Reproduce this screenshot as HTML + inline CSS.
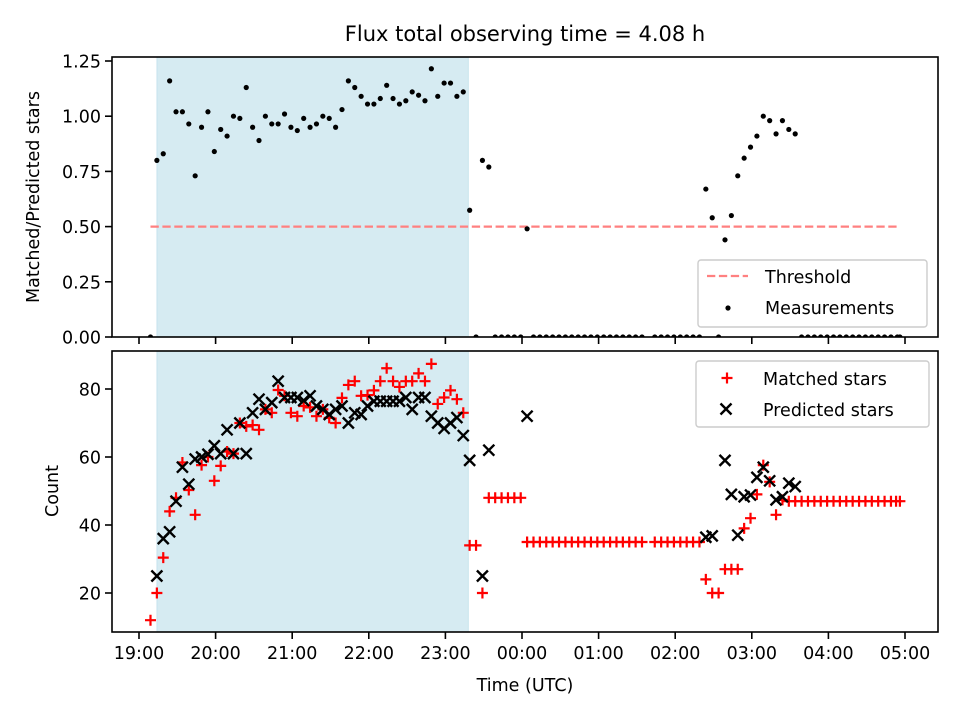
<!DOCTYPE html>
<html><head><meta charset="utf-8"><style>
html,body{margin:0;padding:0;background:#fff;}
svg{display:block;font-family:"DejaVu Sans","Liberation Sans",sans-serif;}
</style></head><body>
<svg id="fig" width="960" height="720" viewBox="0 0 960 720" xmlns="http://www.w3.org/2000/svg">
<text x="525" y="41" font-size="21" text-anchor="middle">Flux total observing time = 4.08 h</text>
<g id="top"></g>
<g id="bot"></g>
<text x="525" y="691" font-size="17.5" text-anchor="middle">Time (UTC)</text>
<text transform="translate(39,197) rotate(-90)" font-size="17.5" text-anchor="middle">Matched/Predicted stars</text>
<text transform="translate(58,491) rotate(-90)" font-size="17.5" text-anchor="middle">Count</text>
</svg>
<script>
// ---- data (times in minutes after 19:00 UTC) ----
const xTickMinutes = [0,60,120,180,240,300,360,420,480,540,600];
const xTickLabels = ["19:00","20:00","21:00","22:00","23:00","00:00","01:00","02:00","03:00","04:00","05:00"];
const topTickValues = [0,0.25,0.5,0.75,1.0,1.25];
const topTickLabels = ["0.00","0.25","0.50","0.75","1.00","1.25"];
const botTickValues = [20,40,60,80];
const botTickLabels = ["20","40","60","80"];
const shadeSpan = [14,258];
const thresholdValue = 0.5;
const thresholdSpan = [9,596];
const measTimes = [9,14,19,24,29,34,39,44,49,54,59,64,69,74,79,84,89,94,99,104,109,114,119,124,129,134,139,144,149,154,159,164,169,174,179,184,189,194,199,204,209,214,219,224,229,234,239,244,249,254,259,
264,269,274,279,284,289,294,299,304,
309,314,319,324,329,334,339,344,349,354,359,364,369,374,379,384,389,394,
404,409,414,419,424,429,434,439,
444,449,454,459,464,469,474,479,484,489,494,499,504,509,514,
519,524,529,534,539,544,549,554,559,564,569,574,579,584,589,594,596];
const measValues = [0,0.80,0.83,1.16,1.02,1.02,0.965,0.73,0.95,1.02,0.84,0.94,0.91,1.00,0.99,1.13,0.95,0.89,1.00,0.965,0.965,1.01,0.95,0.935,0.99,0.95,0.965,1.00,0.99,0.95,1.03,1.16,1.13,1.09,1.055,1.055,1.08,1.14,1.08,1.055,1.07,1.11,1.095,1.07,1.215,1.09,1.15,1.15,1.09,1.11,0.574,
0,0.80,0.77,0,0,0,0,0,0.49,
0,0,0,0,0,0,0,0,0,0,0,0,0,0,0,0,0,0,
0,0,0,0,0,0,0,0,
0.67,0.54,0,0.44,0.55,0.73,0.81,0.86,0.91,1.00,0.98,0.92,0.98,0.94,0.92,
0,0,0,0,0,0,0,0,0,0,0,0,0,0,0,0,0];
const matchedTimes = [9,14,19,24,29,34,39,44,49,54,59,64,69,74,79,84,89,94,99,104,109,114,119,124,129,134,139,144,149,154,159,164,169,174,179,184,189,194,199,204,209,214,219,224,229,234,239,244,249,254,259,
264,269,274,279,284,289,294,299,
304,309,314,319,324,329,334,339,344,349,354,359,364,369,374,379,384,389,394,
404,409,414,419,424,429,434,439,
444,449,454,459,464,469,474,479,484,489,494,499,504,
509,514,519,524,529,534,539,544,549,554,559,564,569,574,579,584,589,593,596];
const matchedValues = [12,20,30.4,44,48,58.4,50.3,43,57.6,60,53,57.4,61.6,61,70,69,69.4,68,74,73,79.7,78,73,72,75,74.6,72,74,71.5,70,77.4,81.2,82.3,78,78.2,79.6,82.3,86.1,82.3,80.6,82.3,82.3,84.6,82.3,87.4,75.6,77.5,79.6,77,73,34,
34,20,48,48,48,48,48,48,
35,35,35,35,35,35,35,35,35,35,35,35,35,35,35,35,35,35,35,
35,35,35,35,35,35,35,35,
24,20,20,27,27,27,39,42,49,57.6,52.7,43,47.4,
47,47,47,47,47,47,47,47,47,47,47,47,47,47,47,47,47,47,47];
const predictedTimes = [14,19,24,29,34,39,44,49,54,59,64,69,74,79,84,89,94,99,104,109,114,119,124,129,134,139,144,149,154,159,164,169,174,179,184,189,194,199,204,209,214,219,224,229,234,239,244,249,254,259,
269,274,304,444,449,459,464,469,474,479,484,489,494,499,504,509,514];
const predictedValues = [25,36,38,47,57,52,59.4,60,60.8,63.3,61,68,61,70,61,73,77,74,76,82.3,77.5,77.5,77.5,76.6,78,75,74,72.5,74,75,70,73,72.5,75,76.4,76.4,76.4,76.4,76.4,77.5,74,77.5,77.5,72,70,68.4,70,71.6,66.3,59,
25,62,72,36.4,36.8,59,49,37,48.3,48.8,54,57,53,47.4,48.3,52.3,51.3];

// ---- geometry ----
const AX_L=112, AX_R=938;
const TOP={t:57,b:337}, BOT={t:351,b:632};
const X0=139, PXMIN=76.6/60;
function xS(m){return X0+m*PXMIN;}
function yTop(v){return 337 - v*220.8;}
function yBot(v){return 661 - v*3.4;}
const NS="http://www.w3.org/2000/svg";
function mk(tag,attrs,parent){const e=document.createElementNS(NS,tag);for(const k in attrs)e.setAttribute(k,attrs[k]);parent.appendChild(e);return e;}

function panel(g,P,yFn,tv,tl,showXLabels,prefix){
  const clipId=prefix+"-clip";
  const cp=mk("clipPath",{id:clipId},g);
  mk("rect",{x:AX_L,y:P.t,width:AX_R-AX_L,height:P.b-P.t},cp);
  const shade=mk("rect",{x:xS(shadeSpan[0]),y:P.t,width:xS(shadeSpan[1])-xS(shadeSpan[0]),height:P.b-P.t,fill:"#add8e6","fill-opacity":"0.5",stroke:"#add8e6","stroke-opacity":"0.5"},g);
  
  
  const marks=mk("g",{"clip-path":"url(#"+clipId+")"},g);
  for(let i=0;i<tv.length;i++){
    const y=yFn(tv[i]);
    mk("line",{x1:AX_L-7,x2:AX_L,y1:y,y2:y,stroke:"#000","stroke-width":1.6},g);
    const t=mk("text",{x:AX_L-11,y:y+6.5,"font-size":"17.5","text-anchor":"end"},g);
    t.textContent=tl[i];
    
    
  }
  for(let i=0;i<xTickMinutes.length;i++){
    const x=xS(xTickMinutes[i]);
    mk("line",{x1:x,x2:x,y1:P.b,y2:P.b+7,stroke:"#000","stroke-width":1.6},g);
    if(showXLabels){
      const t=mk("text",{x:x,y:P.b+27,"font-size":"17.5","text-anchor":"middle"},g);
      t.textContent=xTickLabels[i];
      
      
    }
  }
  const frame=mk("rect",{x:AX_L,y:P.t,width:AX_R-AX_L,height:P.b-P.t,fill:"none",stroke:"#000","stroke-width":1.6},g);
  
  
  return marks;
}
function plus(g,x,y,c,s){mk("path",{d:`M${x-s},${y}H${x+s}M${x},${y-s}V${y+s}`,stroke:c,"stroke-width":2.2,fill:"none"},g);}
function cross(g,x,y,c,s){mk("path",{d:`M${x-s},${y-s}L${x+s},${y+s}M${x-s},${y+s}L${x+s},${y-s}`,stroke:c,"stroke-width":2.4,fill:"none"},g);}

const topG=document.getElementById("top");
const topMarks=panel(topG,TOP,yTop,topTickValues,topTickLabels,false,"top");
const th=mk("line",{x1:xS(thresholdSpan[0]),x2:xS(thresholdSpan[1]),y1:yTop(thresholdValue),y2:yTop(thresholdValue),stroke:"#ff8080","stroke-width":2.2,"stroke-dasharray":"8.3,3.6"},topMarks);


for(let i=0;i<measTimes.length;i++){
  const c=mk("circle",{cx:xS(measTimes[i]),cy:yTop(measValues[i]),r:2.6,fill:"#000"},topMarks);
  
  
}
const lg1=mk("g",{},topG);


mk("rect",{x:698,y:260,width:229,height:67,rx:3,fill:"#fff","fill-opacity":"0.8",stroke:"#ccc","stroke-width":1.4},lg1);
mk("line",{x1:707,x2:748,y1:276,y2:276,stroke:"#ff8080","stroke-width":2.2,"stroke-dasharray":"8.3,3.6"},lg1);
const lt1=mk("text",{x:765,y:283,"font-size":"17.5"},lg1);lt1.textContent="Threshold";


mk("circle",{cx:728,cy:308,r:2.6,fill:"#000"},lg1);
const lt2=mk("text",{x:765,y:314,"font-size":"17.5"},lg1);lt2.textContent="Measurements";



const botG=document.getElementById("bot");
const botMarks=panel(botG,BOT,yBot,botTickValues,botTickLabels,true,"bottom");
for(let i=0;i<matchedTimes.length;i++){
  const g=mk("g",{},botMarks);
  
  
  plus(g,xS(matchedTimes[i]),yBot(matchedValues[i]),"#ff0000",5.5);
}
for(let i=0;i<predictedTimes.length;i++){
  const g=mk("g",{},botMarks);
  
  
  cross(g,xS(predictedTimes[i]),yBot(predictedValues[i]),"#000",5.5);
}
const lg2=mk("g",{},botG);


mk("rect",{x:696,y:361,width:233,height:66,rx:3,fill:"#fff","fill-opacity":"0.8",stroke:"#ccc","stroke-width":1.4},lg2);
plus(lg2,727,378,"#ff0000",5.5);
const lt3=mk("text",{x:763,y:385,"font-size":"17.5"},lg2);lt3.textContent="Matched stars";


cross(lg2,726,409,"#000",5.5);
const lt4=mk("text",{x:763,y:416,"font-size":"17.5"},lg2);lt4.textContent="Predicted stars";


</script>
</body></html>
